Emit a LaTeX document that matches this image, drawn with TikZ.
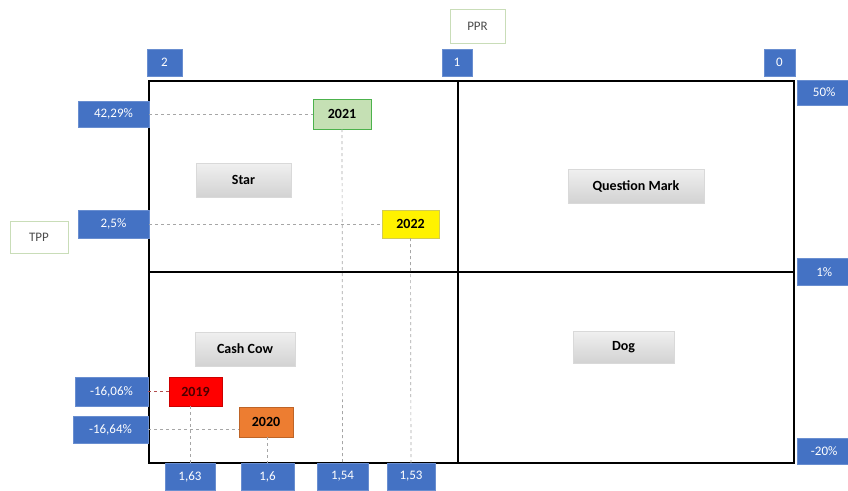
\documentclass[tikz,border=0pt]{standalone}
\usepackage{fontspec}
\setmainfont{Carlito}
\usetikzlibrary{shadows}
\definecolor{bcgblue}{HTML}{4472C4}
\definecolor{bcggreen}{HTML}{C5E0B4}
\definecolor{bcgorange}{HTML}{ED7D31}
\definecolor{frameborder}{HTML}{C9DDB8}
\tikzset{
  lbl/.style={fill=bcgblue, draw=bcgblue!80!white, text=white, inner sep=0pt,
    font=\fontsize{13}{15}\selectfont},
  yr/.style={draw, inner sep=0pt, font=\bfseries\fontsize{14}{16}\selectfont},
  cat/.style={top color=gray!12, bottom color=gray!35, draw=gray!30, inner sep=0pt,
    drop shadow={opacity=0.25, shadow xshift=1pt, shadow yshift=-1pt},
    font=\bfseries\fontsize{14}{16}\selectfont},
  axname/.style={fill=white, draw=frameborder, text=black!70, inner sep=0pt,
    font=\fontsize{13}{15}\selectfont},
  guide/.style={gray!70, dashed, line width=0.7pt},
}
\begin{document}
\begin{tikzpicture}[x=1pt,y=-1pt]
    \useasboundingbox (0,0) rectangle (848,490);
    \def\l{149}
    \def\r{794}
    \def\t{81}
    \def\b{463}
    % frame
    \draw [line width=2pt] (\l,\t) rectangle (\r,\b);
    \draw [line width=2pt] (457.5,\t) -- (457.5,\b);
    \draw [line width=2pt] (\l,272) -- (\r,272);
    % axis names
    \node [axname, minimum width=55pt, minimum height=34pt] (P) at (477.5,26) {PPR};
    \node [axname, minimum width=58pt, minimum height=32pt] (T) at (39,237) {TPP};
    % PPR scale
    \node [lbl, minimum width=35pt, minimum height=27pt] (X2) at (164.5,62.5) {2};
    \node [lbl, minimum width=30pt, minimum height=27pt] (X1) at (457,62.5) {1};
    \node [lbl, minimum width=31pt, minimum height=27pt] (X0) at (779.5,62.5) {0};
    % TPP scale
    \node [lbl, minimum width=54pt, minimum height=25pt, anchor=west] (R50) at (797,92.5) {50\%};
    \node [lbl, minimum width=54pt, minimum height=27pt, anchor=west] (R1) at (797,272) {1\%};
    \node [lbl, minimum width=54pt, minimum height=26pt, anchor=west] (R20) at (797,451) {-20\%};
    % values
    \node [lbl, minimum width=71pt, minimum height=26pt] (L1_1) at (113.5,114) {42,29\%};
    \node [lbl, minimum width=71pt, minimum height=28pt] (L1_2) at (113.5,224) {2,5\%};
    \node [lbl, minimum width=73pt, minimum height=29pt] (L2_1) at (111.5,391.5) {-16,06\%};
    \node [lbl, minimum width=75pt, minimum height=27pt] (L2_2) at (110.5,429.5) {-16,64\%};
    \node [lbl, minimum width=50pt, minimum height=27pt] (B2_1) at (190,476.5) {1,63};
    \node [lbl, minimum width=53pt, minimum height=27pt] (B2_2) at (267.5,476.5) {1,6};
    \node [lbl, minimum width=51pt, minimum height=27pt] (B1_1) at (342.5,476.5) {1,54};
    \node [lbl, minimum width=48pt, minimum height=27pt] (B1_2) at (411,476.5) {1,53};
    % quadrants
    \node [cat, minimum width=95pt, minimum height=34pt] (Q1_1) at (243.5,180) {Star};
    \node [cat, minimum width=136pt, minimum height=34pt] (Q1_2) at (636,186) {Question Mark};
    \node [cat, minimum width=100pt, minimum height=34pt] (Q2_1) at (245,349) {Cash Cow};
    \node [cat, minimum width=101pt, minimum height=32pt] (Q2_2) at (623.5,347) {Dog};
    % years
    \node [yr, fill=bcggreen, draw=green!40!gray, minimum width=58pt, minimum height=30pt] (Y1_1) at (342,114) {2021};
    \node [yr, fill=yellow, draw=yellow!60!gray, minimum width=57pt, minimum height=28pt] (Y1_2) at (410.5,224) {2022};
    \node [yr, fill=red, draw=red!80!black, text=red!30!black, minimum width=53pt, minimum height=29pt] (Y2_1) at (195.5,391.5) {2019};
    \node [yr, fill=bcgorange, draw=bcgorange!80!black, minimum width=54pt, minimum height=30pt] (Y2_2) at (266,422) {2020};
    % guides
    \path (L1_1) edge [guide] (Y1_1);
    \path (L1_2) edge [guide] (Y1_2);
    \path (L2_1) edge [guide, red!40!gray] (Y2_1);
    \path (L2_2.east) edge [guide] (L2_2.east -| Y2_2.west);
    \path (Y1_1) edge [guide] (B1_1);
    \path (Y1_2) edge [guide] (B1_2);
    \path (B2_1.north |- Y2_1.south) edge [guide] (B2_1);
    \path (B2_2.north |- Y2_2.south) edge [guide] (B2_2);
\end{tikzpicture}
\end{document}
